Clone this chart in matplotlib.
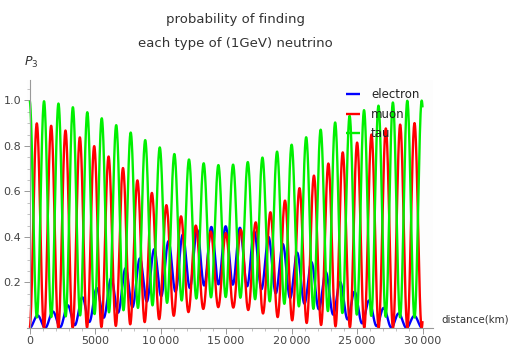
import numpy as np
import matplotlib
matplotlib.use("Agg")
import matplotlib.pyplot as plt
from matplotlib.ticker import MultipleLocator

# Oscillation parameters (vacuum, three flavours, initial tau neutrino)
energy_gev = 1.0
theta12_deg = 37.0
theta13_deg = 8.5
theta23_deg = 38.0
dm21_ev2 = 8.4e-5
dm31_ev2 = 2.32e-3
distance_max_km = 30000

flavour_labels = ["electron", "muon", "tau"]
flavour_colors = ["#0000ff", "#ff0000", "#00f000"]
x_ticks = [0, 5000, 10000, 15000, 20000, 25000, 30000]
x_tick_labels = ["0", "5000", "10\u2009000", "15\u2009000", "20\u2009000", "25\u2009000", "30\u2009000"]
y_ticks = [0.2, 0.4, 0.6, 0.8, 1.0]


def pmns(t12, t13, t23):
    s12, c12 = np.sin(t12), np.cos(t12)
    s13, c13 = np.sin(t13), np.cos(t13)
    s23, c23 = np.sin(t23), np.cos(t23)
    return np.array([
        [c12 * c13, s12 * c13, s13],
        [-s12 * c23 - c12 * s23 * s13, c12 * c23 - s12 * s23 * s13, s23 * c13],
        [s12 * s23 - c12 * c23 * s13, -c12 * s23 - s12 * c23 * s13, c23 * c13],
    ])


U = pmns(*np.radians([theta12_deg, theta13_deg, theta23_deg]))
masses_sq = np.array([0.0, dm21_ev2, dm31_ev2])

L = np.linspace(0, distance_max_km, 6000)
phase = 2.534 * np.outer(L, masses_sq) / energy_gev
evol = np.exp(-1j * phase)
# amplitude tau -> beta
amps = [(evol * U[b][None, :] * U[2][None, :]).sum(axis=1) for b in range(3)]
probs = [np.abs(a) ** 2 for a in amps]

fig = plt.figure(figsize=(5.12, 3.49), dpi=100)
ax = fig.add_axes([27 / 512, 21 / 349, 406 / 512, 248 / 349])
ax.set_facecolor("#fdfdfd")
fig.patch.set_facecolor("white")

for p, c, lab in zip(probs, flavour_colors, flavour_labels):
    ax.plot(L, p, color=c, lw=1.7, label=lab, solid_capstyle="butt")

ax.set_xlim(-200, 30800)
ax.set_ylim(0, 1.09)
for s in ["top", "right"]:
    ax.spines[s].set_visible(False)
ax.spines["left"].set_position(("data", 0))
ax.spines["bottom"].set_position(("data", 0))
for s in ["left", "bottom"]:
    ax.spines[s].set_color("#999999")
    ax.spines[s].set_linewidth(0.8)

ax.set_xticks(x_ticks)
ax.set_xticklabels(x_tick_labels)
ax.set_yticks(y_ticks)
ax.set_yticklabels([f"{v:.1f}" for v in y_ticks])
ax.xaxis.set_minor_locator(MultipleLocator(1000))
ax.yaxis.set_minor_locator(MultipleLocator(0.05))
ax.tick_params(axis="both", which="major", length=4, width=0.7, color="#999999",
               labelsize=8, labelcolor="#444444", pad=2)
ax.tick_params(axis="both", which="minor", length=2, width=0.5, color="#aaaaaa")

fig.text(0.46, 1 - 20 / 349, "probability of finding", ha="center", va="center",
         fontsize=9.5, color="#333333")
fig.text(0.46, 1 - 43 / 349, "each type of (1GeV) neutrino", ha="center", va="center",
         fontsize=9.5, color="#333333")
fig.text(24 / 512, 1 - 62 / 349, r"$P_3$", ha="left", va="center", fontsize=9,
         color="#333333")
fig.text(441 / 512, 1 - 320 / 349, "distance(km)", ha="left", va="center",
         fontsize=7.4, color="#333333")

leg = ax.legend(loc="upper left", bbox_to_anchor=(0.76, 1.01), frameon=False,
                fontsize=8.5, handlelength=1.2, handletextpad=0.9, labelspacing=0.55,
                labelcolor="#222222")

fig.savefig("out.png", dpi=100)
